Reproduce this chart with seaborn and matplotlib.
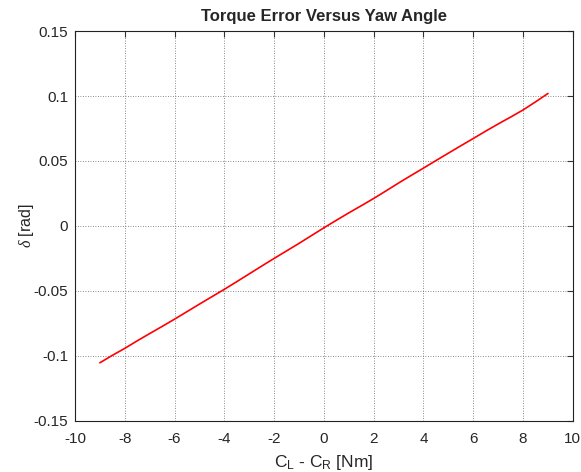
import matplotlib
matplotlib.use("Agg")
import matplotlib.pyplot as plt
import seaborn as sns
import pandas as pd

torque_diff = [-9, -8.5, -8, -7.5, -7, -6.5, -6, -5.5, -5, -4.5, -4, -3.5, -3, -2.5, -2, -1.5, -1, -0.5,
               0, 0.5, 1, 1.5, 2, 2.5, 3, 3.5, 4, 4.5, 5, 5.5, 6, 6.5, 7, 7.5, 8, 8.5, 9]
yaw_angle = [-0.1055, -0.0998, -0.0944, -0.0886, -0.0830, -0.0775, -0.0719, -0.0661, -0.0603, -0.0546,
             -0.0489, -0.0430, -0.0370, -0.0310, -0.0251, -0.0193, -0.0135, -0.0075,
             -0.0015, 0.0043, 0.0100, 0.0155, 0.0211, 0.0270, 0.0330, 0.0388, 0.0445, 0.0503,
             0.0560, 0.0617, 0.0673, 0.0730, 0.0785, 0.0838, 0.0893, 0.0955, 0.1020]

df = pd.DataFrame({"x": torque_diff, "y": yaw_angle})

sns.set_style("white")
plt.rcParams['font.family'] = ['Liberation Sans', 'DejaVu Sans']
plt.rcParams['axes.unicode_minus'] = False
plt.rcParams['mathtext.fontset'] = 'custom'
plt.rcParams['mathtext.rm'] = 'Liberation Sans'
plt.rcParams['mathtext.it'] = 'Liberation Serif:italic'

fig = plt.figure(figsize=(5.81, 4.72), dpi=100)
ax = fig.add_axes([0.129, 0.109, 0.857, 0.825])
sns.lineplot(data=df, x="x", y="y", color="red", linewidth=1.2, ax=ax)

ax.set_xlim(-10, 10)
ax.set_ylim(-0.15, 0.15)
ax.set_xticks(range(-10, 11, 2))
ax.set_yticks([-0.15, -0.1, -0.05, 0, 0.05, 0.1, 0.15])
ax.set_yticklabels(["-0.15", "-0.1", "-0.05", "0", "0.05", "0.1", "0.15"])
ax.grid(True, color="#666666", linestyle=(0, (1, 2)), linewidth=0.6)
ax.tick_params(direction="in", top=True, right=True, labelsize=11, length=4, color="#333333")
ax.tick_params(axis="x", pad=8)
ax.tick_params(axis="y", pad=5)
for s in ax.spines.values():
    s.set_visible(True)
    s.set_color("#222222")
    s.set_linewidth(0.8)

ax.set_title("Torque Error Versus Yaw Angle", fontsize=12, fontweight="bold", pad=7)
ax.set_xlabel(r"C$_\mathrm{L}$ - C$_\mathrm{R}$ [Nm]", fontsize=12.5, labelpad=5)
ax.set_ylabel(r"$\delta$ [rad]", fontsize=11.5)
ax.yaxis.set_label_coords(-0.078, 0.5)

fig.savefig("out.png", dpi=100)
